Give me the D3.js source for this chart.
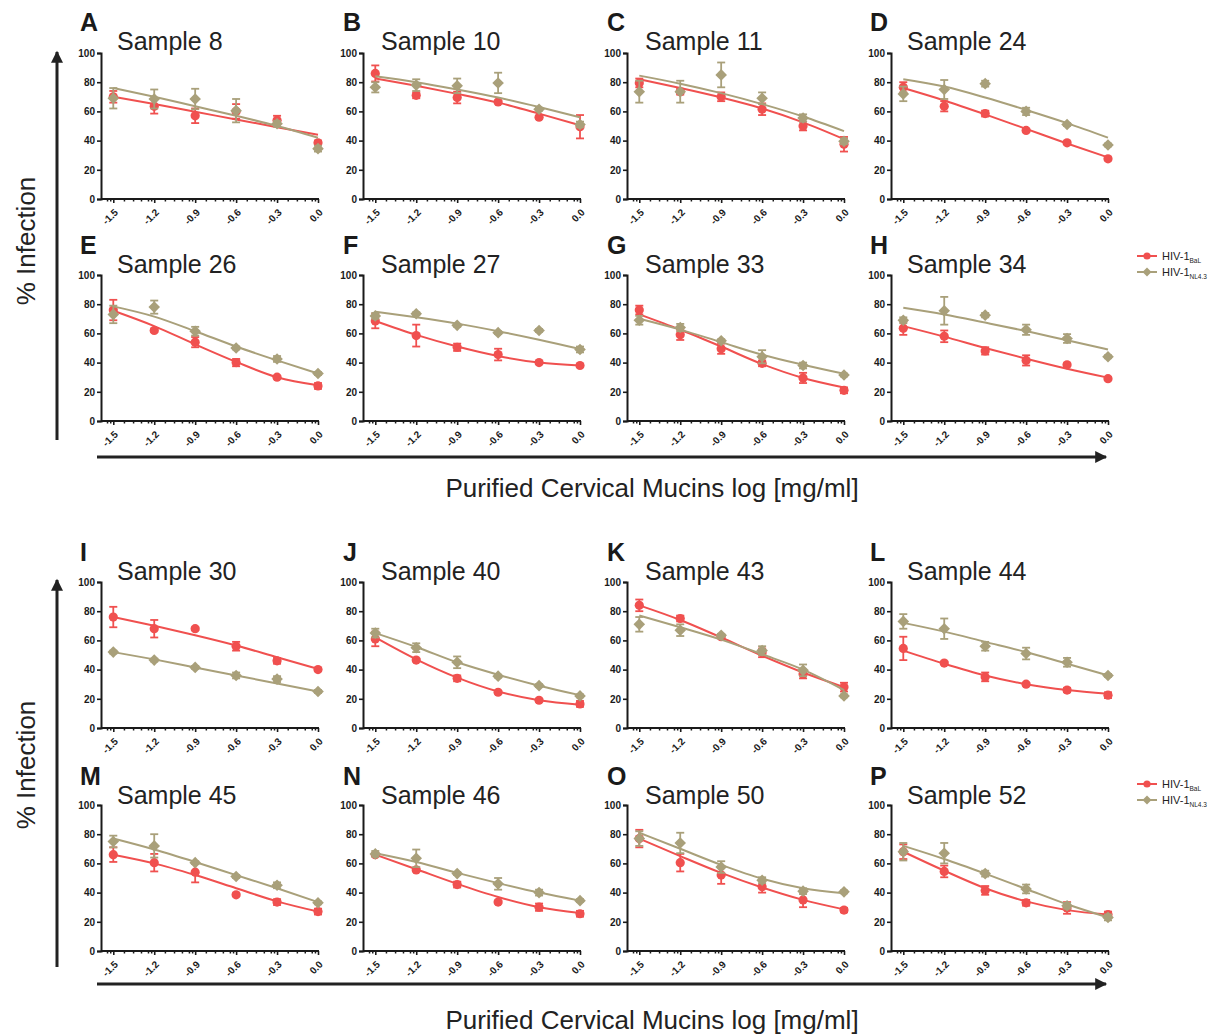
<!DOCTYPE html>
<html>
<head>
<meta charset="utf-8">
<script src="https://cdn.jsdelivr.net/npm/d3@7"></script>
<style>
  body { margin: 0; background: #fff; }
  svg { display: block; font-family: "Liberation Sans", Arial, sans-serif; }
</style>
</head>
<body>
<svg width="1220" height="1035"></svg>
<script>
// doses (log mg/ml) and tick labels
var doses = [-1.5, -1.2, -0.9, -0.6, -0.3, 0.0];
var xTickLabels = ["-1.5", "-1.2", "-0.9", "-0.6", "-0.3", "0.0"];
var yTicks = [0, 20, 40, 60, 80, 100];

var panelLetters = ["A","B","C","D","E","F","G","H","I","J","K","L","M","N","O","P"];
var sampleNames = ["Sample 8","Sample 10","Sample 11","Sample 24",
                   "Sample 26","Sample 27","Sample 33","Sample 34",
                   "Sample 30","Sample 40","Sample 43","Sample 44",
                   "Sample 45","Sample 46","Sample 50","Sample 52"];

// HIV-1 BaL : mean, sem, fitted curve (read at the doses)
var balMean = [
  [70, 63.5, 57, 60, 54, 38.5],
  [86, 71, 69.5, 66.5, 56, 49.5],
  [79.5, 73.5, 70, 61.5, 50, 37.5],
  [76.5, 63.5, 58.5, 47, 38.5, 27.5],
  [76, 62, 54, 40, 30, 24],
  [68.5, 58.5, 50.5, 45.5, 40, 38],
  [76, 59, 49.5, 39.5, 29.5, 21],
  [63.5, 58, 48, 41.5, 38.5, 29],
  [76, 68, 68, 56, 46, 40],
  [61, 46.5, 34, 24.5, 19, 16.5],
  [84, 75, 62.5, 51.5, 37, 28],
  [54.5, 44.5, 35, 30, 26, 22.5],
  [66, 60.5, 54, 38.5, 33.5, 27],
  [66, 55.5, 45.5, 33.5, 30, 25.5],
  [77, 60.5, 52, 44, 35, 28],
  [68, 54.5, 41.5, 33, 29.5, 25]
];
var balSem = [
  [4, 5, 5, 5, 3, 1.5],
  [5.5, 2, 4, 1, 1, 8],
  [3, 2, 3, 4, 3, 5],
  [3.5, 3.5, 2, 1, 1, 1],
  [7, 1, 3.5, 2.5, 1, 2],
  [5, 7.5, 2.5, 4, 1, 1],
  [3, 3.5, 3.5, 2, 3.5, 2],
  [4.5, 4, 2.5, 3.5, 1, 1],
  [7, 6, 1, 3, 2, 1],
  [5, 1, 2, 1, 1, 2],
  [4, 2, 1, 3, 3, 3],
  [8, 1, 3, 1, 1.5, 2],
  [5, 6, 7, 1, 2, 2],
  [1, 1, 2, 1, 2.5, 2],
  [6, 6, 6, 4, 5, 1.5],
  [5, 4, 3, 2, 4, 2]
];
var balFit = [
  [70, 65, 59.7, 54.5, 49.2, 44],
  [82.5, 77.5, 72, 66, 58.5, 50.5],
  [82, 76, 69.5, 62, 52.5, 41],
  [76, 67.5, 58, 48, 38, 28.5],
  [75.5, 65, 52.5, 40.5, 30, 24.5],
  [68.5, 59, 51, 44.5, 40, 38],
  [73, 62.5, 51, 39, 29.5, 23],
  [65, 57.8, 50, 42.7, 35.8, 29.7],
  [76, 70, 63.5, 56.5, 48.5, 40.5],
  [62, 47, 34.5, 25, 19, 16],
  [84, 74, 62, 49.5, 38, 28],
  [53, 44, 36, 30, 26, 23.5],
  [66, 60, 52, 43, 34, 27],
  [66, 56, 46, 37, 30, 26],
  [77, 65, 53.5, 43.5, 35, 28.5],
  [68, 55, 43, 34, 28, 25]
];

// HIV-1 NL4.3 : mean, sem, fitted curve
var nlMean = [
  [69, 68.5, 68.5, 60.5, 51.5, 34.5],
  [76.5, 78, 77.5, 79.5, 61.5, 51],
  [73.5, 73.5, 85, 69, 55.5, 39.5],
  [72, 75, 79, 60, 51, 37],
  [73, 78, 61.5, 50, 42.5, 32.5],
  [72, 73.5, 65.5, 60.5, 62, 49],
  [69, 64, 55, 44, 38, 31.5],
  [69, 75.5, 72.5, 62.5, 56.5, 44],
  [52, 46.5, 41.5, 36, 33.5, 25],
  [65, 55, 45, 35.5, 29, 22],
  [71, 67, 63.5, 53, 39.5, 22],
  [73, 68, 56, 51, 45, 36],
  [75, 72, 60.5, 51, 45, 33],
  [66.5, 63.5, 53, 46, 40, 34.5],
  [77, 74, 57.5, 48.5, 41, 40.5],
  [68, 67, 53, 42.5, 31, 23]
];
var nlSem = [
  [7, 6.5, 7, 8, 2, 2],
  [3.5, 4, 5, 7, 1, 2],
  [7.5, 7.5, 8.5, 4, 2.5, 2],
  [5, 6.5, 2, 2.5, 1, 1],
  [6, 4.5, 3, 1, 2, 1],
  [2, 1, 1, 1, 1, 2],
  [3, 2.5, 1, 4.5, 2, 1],
  [2, 9.5, 1.5, 3.5, 3, 1],
  [1, 1, 1, 2, 2, 1],
  [3, 3, 4, 1, 1, 1],
  [5, 4, 1, 3, 4, 1],
  [5, 7, 3, 4, 3, 1],
  [4, 8, 1, 1, 2, 1],
  [2, 6, 1, 4, 2, 1],
  [5, 7, 4, 2, 2, 1],
  [6, 7, 2, 3, 2, 2]
];
var nlFit = [
  [76, 70, 63.5, 57, 50, 42],
  [84, 80, 75, 69.5, 63, 56],
  [84.5, 79, 72.5, 65, 56.5, 46.5],
  [82, 77, 69.5, 61, 52, 42],
  [78.5, 71.5, 61.5, 51, 41.5, 32.5],
  [74.8, 71, 66.7, 61.5, 55.7, 49.3],
  [70, 62.6, 54, 45.4, 38.5, 32.3],
  [77.6, 73, 67.4, 61.6, 55.3, 49],
  [52, 47, 41.5, 36, 30.5, 25],
  [65, 55.5, 45, 36.5, 29, 22.5],
  [77, 69, 60.5, 50.5, 40, 26],
  [72, 66, 59, 52, 44, 36],
  [77, 69.5, 61, 52, 43, 33.5],
  [67, 61, 53.5, 46.5, 40, 34.5],
  [81, 70, 59, 49.5, 43, 39.5],
  [72, 63, 53, 42.5, 32, 23]
];

var RED = "#f0504f", OLIVE = "#a9a07a", INK = "#1a1a1a";

var svg = d3.select("svg");

// layout of the 4x4 grid
var colX = [101, 363, 627, 891];
var rowTop = [53, 275, 582, 805];
var plotW = 217, plotH = 146;
var letterX = [80, 343, 607, 870];
var titleX = [117, 381, 645, 907];
var titleY = [50, 273, 580, 804];

// minor ticks: log spacing inside each 2-fold step
var minorTicks = [];
doses.forEach(function(d) {
  [1.2, 1.4, 1.6, 1.8, 1.9].forEach(function(k) {
    var v = d - 0.30103 + Math.log10(k);
    if (v > -1.59) minorTicks.push(v);
  });
});

function diamond(r) {
  return "M0," + (-r) + "L" + r + ",0L0," + r + "L" + (-r) + ",0Z";
}

function drawPanel(i) {
  var col = i % 4, row = Math.floor(i / 4);
  var x0 = colX[col], y0 = rowTop[row];

  var x = d3.scaleLinear().domain([-1.59, 0]).range([x0, x0 + plotW]);
  var y = d3.scaleLinear().domain([0, 100]).range([y0 + plotH, y0]);

  var g = svg.append("g").attr("class", "panel");

  g.append("text")
    .attr("x", letterX[col]).attr("y", titleY[row] - 19)
    .attr("font-size", 25).attr("font-weight", "bold").attr("fill", INK)
    .text(panelLetters[i]);

  g.append("text")
    .attr("x", titleX[col]).attr("y", titleY[row])
    .attr("font-size", 25).attr("fill", "#222")
    .text(sampleNames[i]);

  // y axis
  var yAxis = g.append("g")
    .attr("transform", "translate(" + x0 + ",0)")
    .call(d3.axisLeft(y).tickValues(yTicks).tickSize(4).tickPadding(2));
  yAxis.select(".domain").attr("stroke-width", 2).attr("stroke", INK);
  yAxis.selectAll(".tick line").attr("stroke-width", 1.6).attr("stroke", INK);
  yAxis.selectAll("text").attr("font-size", 10).attr("font-weight", "bold")
    .attr("fill", INK).attr("font-family", "Liberation Sans, Arial, sans-serif");

  // x axis, minor then major
  var xMinor = g.append("g")
    .attr("transform", "translate(0," + (y0 + plotH) + ")")
    .call(d3.axisBottom(x).tickValues(minorTicks).tickSize(2.5).tickFormat(""));
  xMinor.select(".domain").remove();
  xMinor.selectAll(".tick line").attr("stroke-width", 1.5).attr("stroke", INK);

  var xAxis = g.append("g")
    .attr("transform", "translate(0," + (y0 + plotH) + ")")
    .call(d3.axisBottom(x).tickValues(doses).tickSize(4)
      .tickFormat(function(d, j) { return xTickLabels[j]; }));
  xAxis.select(".domain").attr("stroke-width", 2).attr("stroke", INK)
    .attr("d", "M" + x0 + ",0H" + (x0 + plotW + 1));
  xAxis.selectAll(".tick line").attr("stroke-width", 1.6).attr("stroke", INK);
  xAxis.selectAll("text")
    .attr("font-size", 10).attr("font-weight", "bold").attr("fill", INK)
    .attr("font-family", "Liberation Sans, Arial, sans-serif")
    .attr("text-anchor", "end")
    .attr("dy", null)
    .attr("y", 0)
    .attr("transform", "translate(5,14) rotate(-45)");

  var series = [
    { mean: balMean[i], sem: balSem[i], fit: balFit[i], color: RED, shape: "circle" },
    { mean: nlMean[i], sem: nlSem[i], fit: nlFit[i], color: OLIVE, shape: "diamond" }
  ];

  var line = d3.line()
    .x(function(d, j) { return x(doses[j]); })
    .y(function(d) { return y(d); })
    .curve(d3.curveMonotoneX);

  series.forEach(function(s) {
    var sg = g.append("g");
    sg.append("path")
      .attr("d", line(s.fit))
      .attr("fill", "none").attr("stroke", s.color).attr("stroke-width", 2);

    var pts = s.mean.map(function(m, j) { return { x: doses[j], m: m, e: s.sem[j] }; });

    var eb = sg.selectAll(".err").data(pts).enter().append("g")
      .attr("stroke", s.color).attr("stroke-width", 1.8);
    eb.append("line")
      .attr("x1", function(d) { return x(d.x); }).attr("x2", function(d) { return x(d.x); })
      .attr("y1", function(d) { return y(d.m - d.e); }).attr("y2", function(d) { return y(d.m + d.e); });
    eb.append("line")
      .attr("x1", function(d) { return x(d.x) - 4; }).attr("x2", function(d) { return x(d.x) + 4; })
      .attr("y1", function(d) { return y(d.m + d.e); }).attr("y2", function(d) { return y(d.m + d.e); });
    eb.append("line")
      .attr("x1", function(d) { return x(d.x) - 4; }).attr("x2", function(d) { return x(d.x) + 4; })
      .attr("y1", function(d) { return y(d.m - d.e); }).attr("y2", function(d) { return y(d.m - d.e); });

    if (s.shape == "circle") {
      sg.selectAll(".pt").data(pts).enter().append("circle")
        .attr("cx", function(d) { return x(d.x); })
        .attr("cy", function(d) { return y(d.m); })
        .attr("r", 4.6).attr("fill", s.color);
    } else {
      sg.selectAll(".pt").data(pts).enter().append("path")
        .attr("transform", function(d) { return "translate(" + x(d.x) + "," + y(d.m) + ")"; })
        .attr("d", diamond(5.8)).attr("fill", s.color);
    }
  });
}

for (var i = 0; i < 16; i++) drawPanel(i);

// arrow marker
var defs = svg.append("defs");
defs.append("marker")
  .attr("id", "arrow").attr("viewBox", "0 0 10 10")
  .attr("refX", 9).attr("refY", 5)
  .attr("markerWidth", 5).attr("markerHeight", 4)
  .attr("markerUnits", "strokeWidth")
  .attr("orient", "auto")
  .append("path").attr("d", "M0,0L10,5L0,10Z").attr("fill", "#222");

// big axis arrows and titles for the two halves
var halves = [
  { vTop: 52, vBot: 440, hY: 457, infY: 241, titleY: 497 },
  { vTop: 580, vBot: 967, hY: 984, infY: 765, titleY: 1029 }
];
halves.forEach(function(h) {
  svg.append("line")
    .attr("x1", 57).attr("x2", 57).attr("y1", h.vBot).attr("y2", h.vTop)
    .attr("stroke", "#222").attr("stroke-width", 3).attr("marker-end", "url(#arrow)");
  svg.append("line")
    .attr("x1", 97).attr("x2", 1106).attr("y1", h.hY).attr("y2", h.hY)
    .attr("stroke", "#222").attr("stroke-width", 3).attr("marker-end", "url(#arrow)");
  svg.append("text")
    .attr("transform", "translate(35," + h.infY + ") rotate(-90)")
    .attr("text-anchor", "middle").attr("font-size", 26).attr("fill", "#222")
    .text("% Infection");
  svg.append("text")
    .attr("x", 652).attr("y", h.titleY)
    .attr("text-anchor", "middle").attr("font-size", 26).attr("fill", "#222")
    .text("Purified Cervical Mucins log [mg/ml]");
});

// legends
var legendNames = ["BaL", "NL4.3"];
var legendColors = [RED, OLIVE];
[256, 784].forEach(function(ly) {
  legendNames.forEach(function(name, j) {
    var yy = ly + j * 16;
    var lg = svg.append("g");
    lg.append("line").attr("x1", 1137).attr("x2", 1157).attr("y1", yy).attr("y2", yy)
      .attr("stroke", legendColors[j]).attr("stroke-width", 2);
    if (j == 0) lg.append("circle").attr("cx", 1147).attr("cy", yy).attr("r", 3.6).attr("fill", RED);
    else lg.append("path").attr("transform", "translate(1147," + yy + ")").attr("d", diamond(4.5)).attr("fill", OLIVE);
    var t = lg.append("text").attr("x", 1162).attr("y", yy + 4)
      .attr("font-size", 11).attr("fill", "#222").text("HIV-1");
    t.append("tspan").attr("font-size", 6.5).attr("dy", 3).text(name);
  });
});
</script>
</body>
</html>
